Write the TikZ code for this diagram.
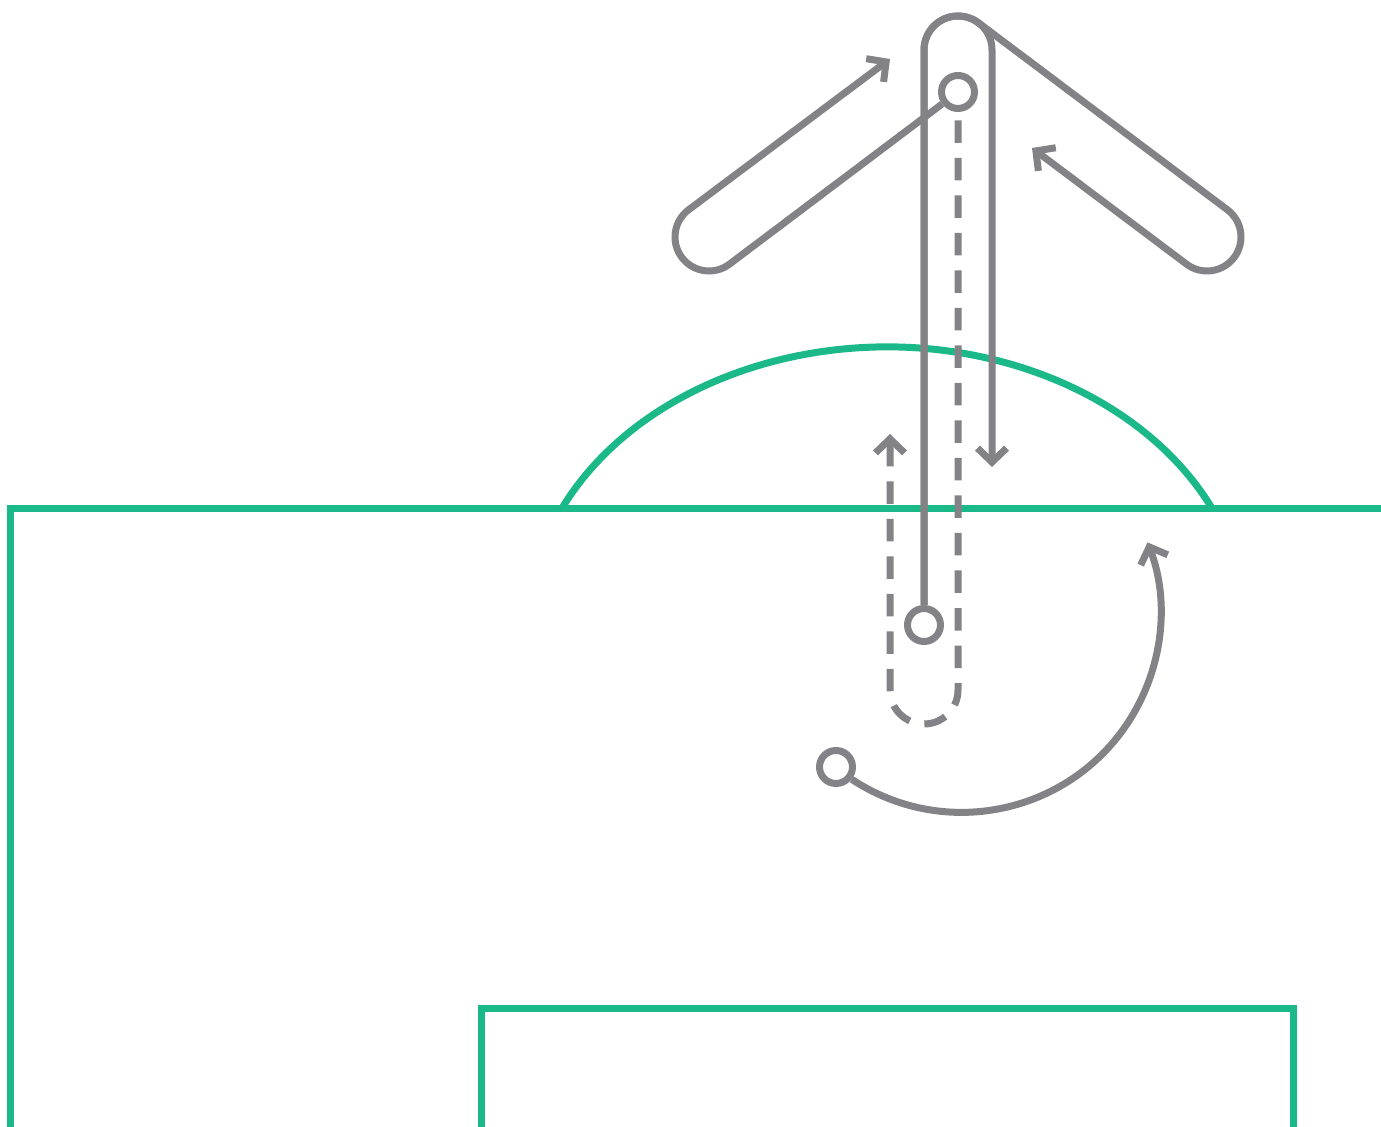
\documentclass[tikz,border=0pt]{standalone}
\usepackage{xcolor}
\usepackage{tikz}
\usetikzlibrary{arrows.meta,calc}
\definecolor{pitchgreen}{RGB}{27,184,137}
\definecolor{markgray}{RGB}{131,131,135}

\begin{document}
\begin{tikzpicture}[
    x=0.2mm, y=0.2mm,
    >={Straight Barb[length=0.28cm, width=0.58cm, line join=miter, line cap=butt]},
    pitch/.style={draw=pitchgreen, line width=0.14cm},
    player/.style={circle, draw=markgray, line width=0.14cm, fill=white, inner sep=0pt, minimum size=0.66cm},
    move/.style={->, draw=markgray, line width=0.14cm},
    dribble/.style={move, dash pattern=on 0.45cm off 0.3cm, dash phase=0.58cm}
]
    \useasboundingbox (0,0) rectangle (1381,1127);

    % Pitch lines
    \draw[pitch] (10,0) -- (10,618) -- (1381,618);
    \draw[pitch] (481,0) -- (481,118) -- (1293,118) -- (1293,0);
    \draw[pitch] (561.5,618) arc[start angle=154.7, end angle=25.3, x radius=360, y radius=283];

    % Players and ball
    \node[player] (ball) at (958,1035) {};
    \node[player] (p1) at (924,502) {};
    \node[player] (p2) at (836,360) {};

    % Turning points and ends
    \coordinate (pilltop) at (924,1077);
    \coordinate (passturn) at (709,890);
    \coordinate (shotturn) at (1207,890);
    \coordinate (dribturn) at (958,437);
    \coordinate (passend) at (890,1068);
    \coordinate (runend) at (992,660);
    \coordinate (shotend) at (1032,979);
    \coordinate (dribend) at (890,693);

    % Pass out and back
    \draw[move] (ball) -- ($(passturn)+(-53.13:34)$) arc[start angle=-53.13, end angle=-233.13, radius=34] -- (passend);

    % Runs of the front player
    \draw[move] (p1) -- (pilltop) arc[start angle=180, end angle=0, radius=34] -- (runend);
    \draw[move] (p1) -- (pilltop) arc[start angle=180, end angle=53.13, radius=34]
        -- ($(shotturn)+(53.13:34)$) arc[start angle=53.13, end angle=-126.87, radius=34] -- (shotend);

    % Dribble
    \draw[dribble] (ball) -- (dribturn) arc[start angle=0, end angle=-180, radius=34] -- (dribend);

    % Curved run
    \draw[move] (p2.-38) arc[start angle=236.5, end angle=380.9, radius=199];

\end{tikzpicture}
\end{document}
